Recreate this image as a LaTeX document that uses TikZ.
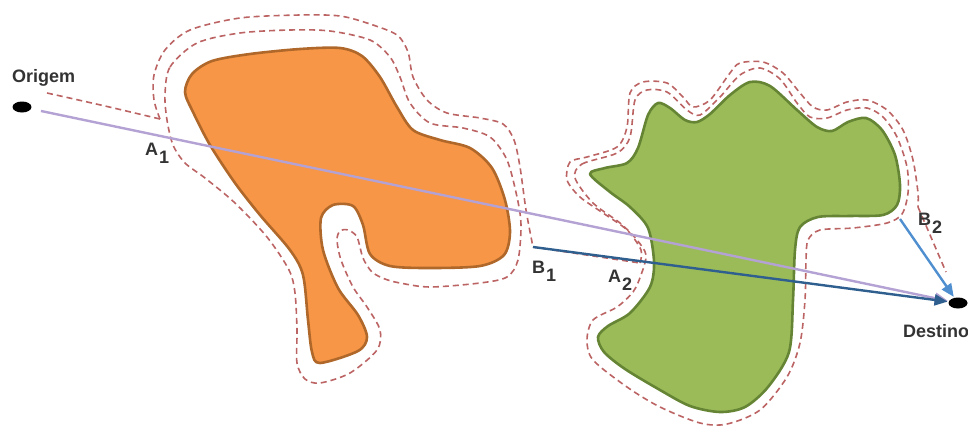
\documentclass[tikz,border=0pt]{standalone}
\usepackage{fontspec}
\setmainfont{Liberation Sans}
\usetikzlibrary{arrows.meta,shapes.geometric}
\definecolor{obsA}{HTML}{F79646}
\definecolor{obsAline}{HTML}{B0672A}
\definecolor{obsB}{HTML}{9BBB59}
\definecolor{obsBline}{HTML}{658535}
\definecolor{ring}{HTML}{BC6464}
\definecolor{lilac}{HTML}{B3A2D3}
\definecolor{navy}{HTML}{2F5F8F}
\definecolor{sky}{HTML}{4F8FD0}
\definecolor{txt}{HTML}{333333}
\newcommand{\ptlab}[2]{#1\kern1pt\raisebox{-8pt}{#2}}
\tikzset{
  obst/.style={line width=2.6pt, line join=round},
  margin/.style={ring, line width=1.6pt, dash pattern=on 6pt off 4pt},
  dot/.style={ellipse, fill=black, minimum width=19pt, minimum height=11pt, inner sep=0pt},
  lbl/.style={text=txt, font=\bfseries\fontsize{18}{18}\selectfont, inner sep=0pt, anchor=base west},
  route/.style={line width=2.4pt, -{Triangle[length=13pt,width=11pt]}},
}
\begin{document}
\begin{tikzpicture}[x=1pt, y=-1pt]
\useasboundingbox (0,0) rectangle (968,426);
% obstacles
\filldraw[obst, fill=obsA, draw=obsAline] plot[smooth cycle] coordinates {
  (185,92) (192,74) (212,61) (250,54) (300,49) (340,48) (362,56) (380,77) (397,107)
  (413,130) (440,140) (470,148) (492,168) (505,200) (510,232) (504,255) (480,266)
  (430,268) (390,266) (370,254) (363,225) (353,206) (333,205) (321,218) (323,250)
  (338,288) (358,315) (367,337) (358,351) (320,363) (312,352) (308,320) (303,275)
  (290,250) (260,215) (235,183) (210,145) (193,112)};
\filldraw[obst, fill=obsB, draw=obsBline] plot[smooth cycle] coordinates {
  (590,174) (605,168) (627,163) (638,148) (648,115) (658,103) (670,108) (685,120)
  (697,122) (710,114) (730,95) (750,82) (770,86) (797,110) (817,127) (832,131)
  (848,122) (866,118) (882,130) (895,155) (900,185) (897,205) (883,215) (850,216)
  (818,217) (800,227) (795,250) (793,300) (789,352) (768,387) (745,407) (720,412)
  (690,406) (660,390) (625,369) (604,352) (598,337) (608,326) (630,313) (650,287)
  (654,262) (648,228) (630,207) (610,192)};
% safety margins
\draw[margin] plot[smooth cycle] coordinates {
  (165,95) (170,67) (197,43) (240,33) (290,30) (330,31) (370,40) (390,57) (400,77)
  (410,103) (430,123) (463,128) (490,137) (507,160) (517,197) (521,225) (518,260)
  (507,277) (480,283) (430,287) (400,283) (385,279) (372,272) (363,258) (357,237)
  (348,230) (340,231) (337,240) (341,260) (353,287) (367,307) (380,330) (377,350)
  (350,373) (320,383) (305,379) (297,363) (297,330) (295,293) (289,270) (267,237)
  (235,203) (205,178) (185,163) (173,145) (167,120)};
\draw[margin] plot[smooth cycle] coordinates {
  (575,178) (582,164) (617,153) (630,137) (635,100) (647,90) (667,92) (687,110)
  (700,115) (720,97) (740,75) (760,68) (780,79) (797,103) (810,117) (827,118)
  (847,110) (867,108) (883,117) (897,137) (907,167) (908,193) (902,214) (887,223)
  (853,228) (820,230) (808,240) (806,260) (805,300) (800,343) (787,377) (760,410)
  (727,424) (700,423) (660,407) (627,387) (593,360) (587,340) (593,320) (617,307)
  (633,292) (641,275) (646,255) (637,240) (620,223) (593,203)};
% points
\node[dot] (orig) at (22,107) {};
\node[dot] (dest) at (958,303) {};
\coordinate (a1) at (160,119);
\coordinate (b1) at (533,247);
\coordinate (a2) at (640,263);
\coordinate (g2) at (918,207);
\coordinate (b2) at (900,219);
% outer margin route
\draw[margin] plot[smooth] coordinates {(47,93) (105,106) (a1)};
\draw[margin] plot[smooth] coordinates {
  (a1) (154,100) (154,75) (165,50) (190,30) (240,18) (300,15) (340,16) (370,24)
  (397,35) (408,52) (413,77) (427,100) (447,113) (480,118) (503,124) (514,140)
  (520,167) (526,210) (b1)};
\draw[margin] (b1) -- (a2);
\draw[margin] plot[smooth] coordinates {
  (a2) (641,250) (627,230) (603,213) (580,197) (567,180) (570,162) (587,157)
  (617,147) (627,127) (630,93) (643,82) (667,83) (683,97) (693,107) (710,100)
  (730,73) (740,63) (763,62) (783,73) (800,93) (813,107) (827,110) (847,102)
  (867,100) (887,110) (903,130) (913,160) (918,193) (g2)};
\draw[margin] (g2) -- (946,272);
% routes
\draw[route, lilac, shorten <=10pt, shorten >=1pt] (orig) -- (dest);
\draw[route, navy, shorten >=1pt] (b1) -- (dest);
\draw[route, sky, shorten >=1pt] (b2) -- (dest);
% labels
\node[lbl] (lorig) at (12,82) {Origem};
\node[lbl] (ldest) at (903,337) {Destino};
\node[lbl] (la1) at (145,155) {\ptlab{A}{1}};
\node[lbl] (lb1) at (532,273) {\ptlab{B}{1}};
\node[lbl] (la2) at (608,282) {\ptlab{A}{2}};
\node[lbl] (lb2) at (918,225) {\ptlab{B}{2}};
\end{tikzpicture}
\end{document}
